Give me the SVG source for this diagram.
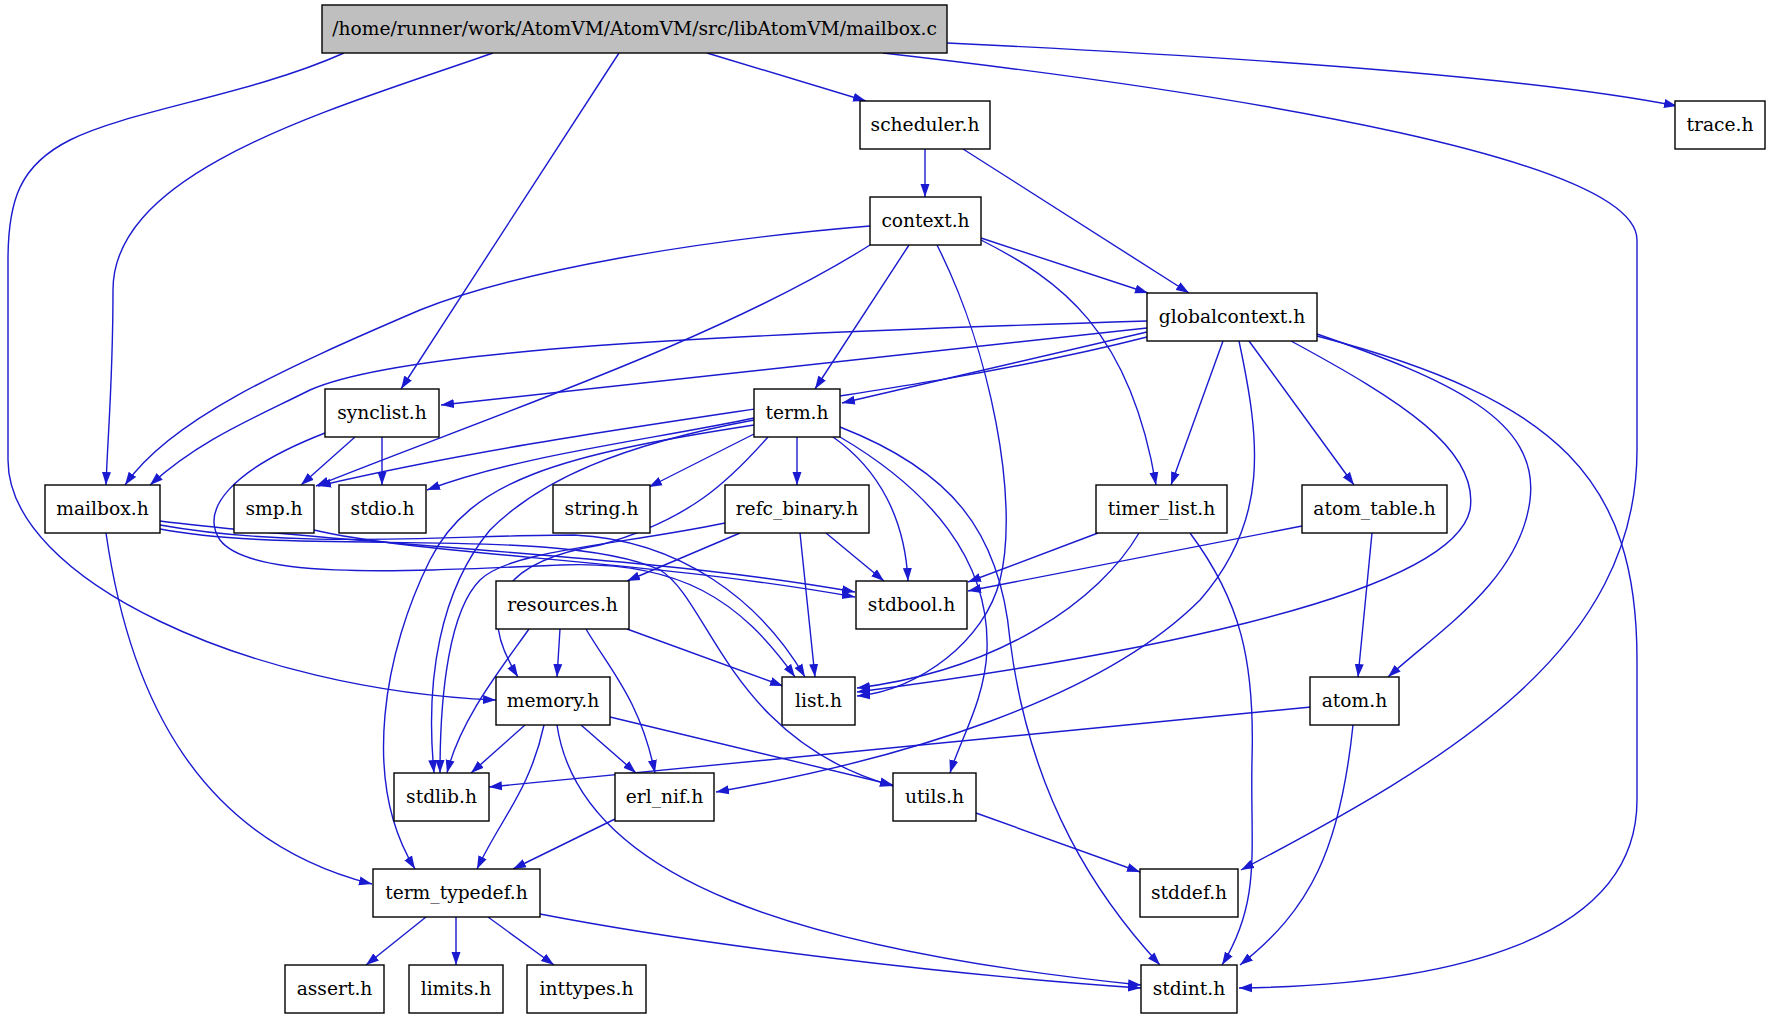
<svg xmlns="http://www.w3.org/2000/svg" width="1770" height="1019" viewBox="0 0 1770 1019">
<style>
.n rect{fill:#ffffff;stroke:#000000;stroke-width:1.4}
#n_main rect{fill:#bfbfbf}
.n text{font-family:"DejaVu Serif",serif;font-size:18.67px;fill:#000000;text-anchor:middle}
.e path{fill:none;stroke:#1a1ad0;stroke-width:1.4;marker-end:url(#arr)}
</style>
<defs>
<marker id="arr" markerUnits="userSpaceOnUse" markerWidth="14" markerHeight="10" refX="13" refY="5" orient="auto">
<path d="M0,0.5 L13,5 L0,9.5 z" fill="#1a1ad0"/>
</marker>
</defs>
<rect width="1770" height="1019" fill="#ffffff"/>
<g id="edges" class="e">
<path d="M707,53 L866,101"/>
<path d="M947,43 C1200,55 1520,75 1677,106"/>
<path d="M883,53 C1250,95 1637,160 1637,240 L1637,450 C1637,650 1450,760 1241,870"/>
<path d="M619,53 L401,389"/>
<path d="M493,53 C330,110 113,170 113,290 C113,380 108,430 106,485"/>
<path d="M344,53 C250,95 130,110 70,140 C20,165 8,200 8,260 L8,460 C8,580 250,690 496,700"/>
<path d="M925,149 L925,197"/>
<path d="M963,149 L1189,293"/>
<path d="M981,238 L1148,293"/>
<path d="M981,240 C1060,280 1130,330 1156,485"/>
<path d="M909,245 L815,389"/>
<path d="M937,245 C990,350 1020,500 1000,580 C985,640 920,690 857,696"/>
<path d="M870,245 C720,340 480,420 316,486"/>
<path d="M870,226 C700,240 520,270 420,310 C280,370 170,420 125,485"/>
<path d="M1147,321 C700,335 400,350 310,390 C250,420 200,440 150,485"/>
<path d="M1147,328 L441,405"/>
<path d="M1147,332 L842,403"/>
<path d="M1147,337 C900,400 600,420 318,486"/>
<path d="M1223,341 L1171,485"/>
<path d="M1249,341 L1354,485"/>
<path d="M1239,341 C1260,440 1270,520 1200,600 C1100,700 900,760 716,792"/>
<path d="M1291,341 C1400,400 1480,450 1470,510 C1450,600 1100,660 857,692"/>
<path d="M1317,334 C1450,380 1540,420 1530,500 C1520,580 1440,630 1388,677"/>
<path d="M1317,336 C1560,400 1637,480 1637,660 L1637,800 C1637,940 1450,985 1239,988"/>
<path d="M355,437 L301,485"/>
<path d="M382,437 L382,485"/>
<path d="M325,433 C230,470 200,510 220,540 C250,580 400,572 560,565 C680,560 740,600 795,677"/>
<path d="M754,418 C650,440 520,455 427,490"/>
<path d="M754,434 L649,487"/>
<path d="M797,437 L797,485"/>
<path d="M833,437 C880,470 905,520 908,581"/>
<path d="M840,437 C930,490 990,560 987,650 C985,700 960,740 950,773"/>
<path d="M840,427 C950,470 1000,530 1010,640 C1030,800 1100,900 1160,965"/>
<path d="M768,437 C730,480 690,520 600,545 C510,560 470,600 518,677"/>
<path d="M754,420 C620,445 540,480 490,530 C440,590 425,680 434,773"/>
<path d="M754,425 C560,455 470,480 430,560 C385,650 360,780 415,869"/>
<path d="M106,533 C130,700 200,840 372,884"/>
<path d="M160,521 C350,545 650,555 855,592"/>
<path d="M160,525 C300,550 450,535 574,535 C680,540 760,600 805,677"/>
<path d="M160,529 C300,556 560,525 660,570 C710,600 730,740 893,786"/>
<path d="M314,530 C420,555 650,560 855,597"/>
<path d="M725,523 C620,545 510,550 480,580 C450,610 440,690 440,773"/>
<path d="M740,533 L627,581"/>
<path d="M800,533 L815,677"/>
<path d="M826,533 L884,581"/>
<path d="M529,629 C500,670 460,720 447,773"/>
<path d="M560,629 L557,677"/>
<path d="M586,629 C610,670 640,700 655,773"/>
<path d="M627,629 L783,686"/>
<path d="M525,725 L471,773"/>
<path d="M544,725 C530,790 500,820 477,869"/>
<path d="M557,725 C580,880 800,950 1141,985"/>
<path d="M581,725 L636,773"/>
<path d="M610,717 L893,785"/>
<path d="M615,819 L513,869"/>
<path d="M426,917 L366,965"/>
<path d="M456,917 L456,965"/>
<path d="M488,917 L554,965"/>
<path d="M540,914 C700,945 950,975 1141,988"/>
<path d="M1302,526 L968,591"/>
<path d="M1372,533 L1358,677"/>
<path d="M1098,533 L968,582"/>
<path d="M1139,533 C1100,600 1000,670 857,688"/>
<path d="M1190,533 C1240,600 1255,660 1252,760 C1250,850 1262,900 1222,965"/>
<path d="M1311,707 L489,787"/>
<path d="M1353,725 C1340,850 1310,910 1240,965"/>
<path d="M976,813 L1140,872"/>
</g>
<g id="n_main" class="n"><rect x="322" y="5" width="625" height="48"/><text x="634.5" y="35">/home/runner/work/AtomVM/AtomVM/src/libAtomVM/mailbox.c</text></g>
<g id="n_scheduler" class="n"><rect x="860" y="101" width="130" height="48"/><text x="925" y="131">scheduler.h</text></g>
<g id="n_trace" class="n"><rect x="1675" y="101" width="90" height="48"/><text x="1720" y="131">trace.h</text></g>
<g id="n_context" class="n"><rect x="870" y="197" width="111" height="48"/><text x="925.5" y="227">context.h</text></g>
<g id="n_globalcontext" class="n"><rect x="1147" y="293" width="170" height="48"/><text x="1232" y="323">globalcontext.h</text></g>
<g id="n_synclist" class="n"><rect x="325" y="389" width="114" height="48"/><text x="382" y="419">synclist.h</text></g>
<g id="n_term" class="n"><rect x="754" y="389" width="86" height="48"/><text x="797" y="419">term.h</text></g>
<g id="n_mailbox" class="n"><rect x="45" y="485" width="115" height="48"/><text x="102.5" y="515">mailbox.h</text></g>
<g id="n_smp" class="n"><rect x="234" y="485" width="80" height="48"/><text x="274" y="515">smp.h</text></g>
<g id="n_stdio" class="n"><rect x="339" y="485" width="87" height="48"/><text x="382.5" y="515">stdio.h</text></g>
<g id="n_string" class="n"><rect x="553" y="485" width="97" height="48"/><text x="601.5" y="515">string.h</text></g>
<g id="n_refc_binary" class="n"><rect x="725" y="485" width="144" height="48"/><text x="797" y="515">refc_binary.h</text></g>
<g id="n_timer_list" class="n"><rect x="1096" y="485" width="131" height="48"/><text x="1161.5" y="515">timer_list.h</text></g>
<g id="n_atom_table" class="n"><rect x="1302" y="485" width="145" height="48"/><text x="1374.5" y="515">atom_table.h</text></g>
<g id="n_resources" class="n"><rect x="496" y="581" width="133" height="48"/><text x="562.5" y="611">resources.h</text></g>
<g id="n_stdbool" class="n"><rect x="856" y="581" width="111" height="48"/><text x="911.5" y="611">stdbool.h</text></g>
<g id="n_memory" class="n"><rect x="496" y="677" width="114" height="48"/><text x="553" y="707">memory.h</text></g>
<g id="n_list" class="n"><rect x="782" y="677" width="73" height="48"/><text x="818.5" y="707">list.h</text></g>
<g id="n_atom" class="n"><rect x="1310" y="677" width="89" height="48"/><text x="1354.5" y="707">atom.h</text></g>
<g id="n_stdlib" class="n"><rect x="394" y="773" width="95" height="48"/><text x="441.5" y="803">stdlib.h</text></g>
<g id="n_erl_nif" class="n"><rect x="615" y="773" width="99" height="48"/><text x="664.5" y="803">erl_nif.h</text></g>
<g id="n_utils" class="n"><rect x="893" y="773" width="83" height="48"/><text x="934.5" y="803">utils.h</text></g>
<g id="n_term_typedef" class="n"><rect x="373" y="869" width="167" height="48"/><text x="456.5" y="899">term_typedef.h</text></g>
<g id="n_stddef" class="n"><rect x="1140" y="869" width="98" height="48"/><text x="1189" y="899">stddef.h</text></g>
<g id="n_assert" class="n"><rect x="285" y="965" width="99" height="48"/><text x="334.5" y="995">assert.h</text></g>
<g id="n_limits" class="n"><rect x="409" y="965" width="94" height="48"/><text x="456" y="995">limits.h</text></g>
<g id="n_inttypes" class="n"><rect x="527" y="965" width="119" height="48"/><text x="586.5" y="995">inttypes.h</text></g>
<g id="n_stdint" class="n"><rect x="1141" y="965" width="96" height="48"/><text x="1189" y="995">stdint.h</text></g>
</svg>
